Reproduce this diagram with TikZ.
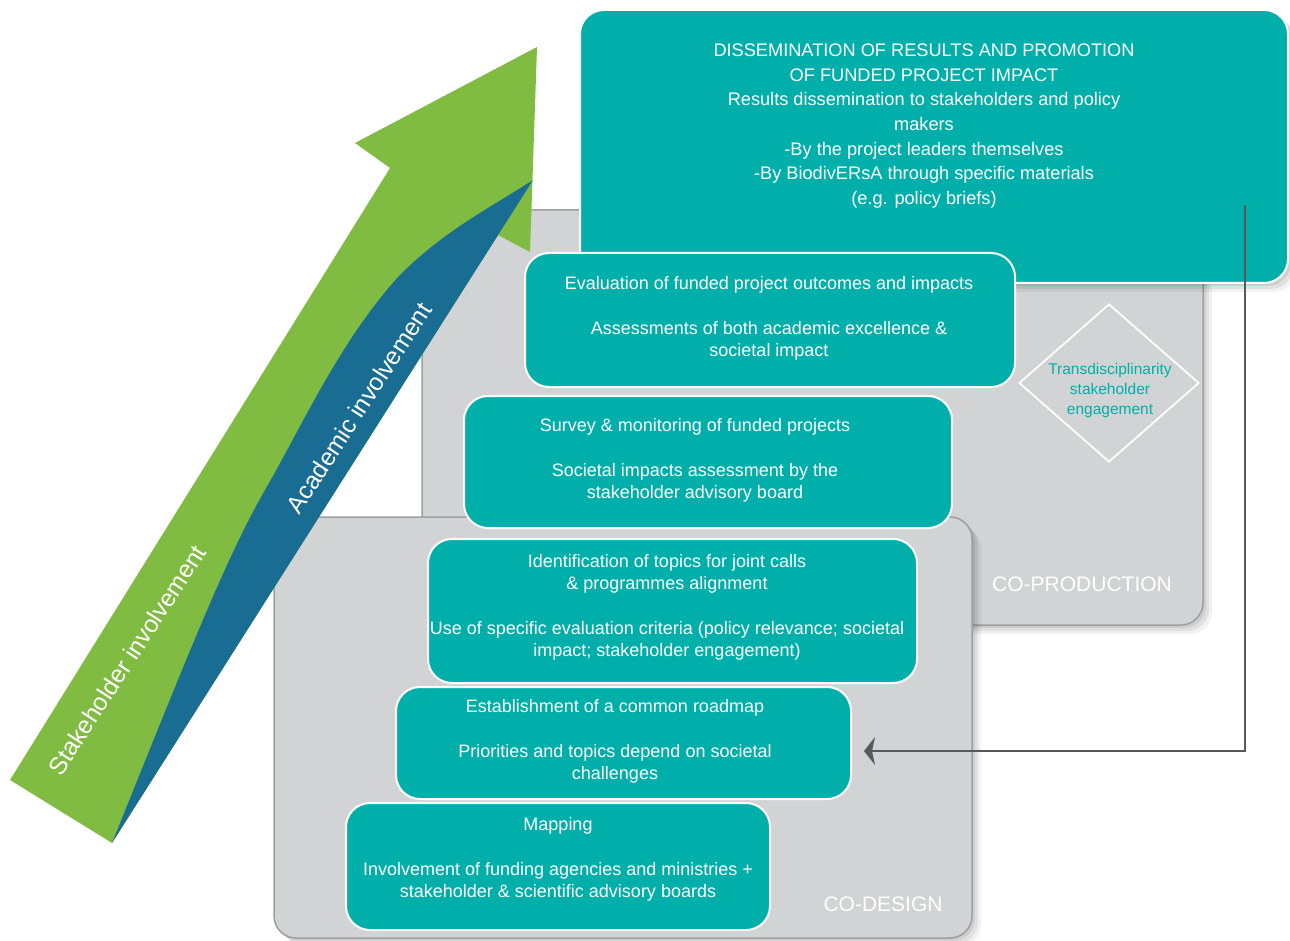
\documentclass[tikz,border=0pt]{standalone}
\usepackage{fontspec}
\setmainfont{Liberation Sans}
\usetikzlibrary{shapes.geometric,arrows.meta,shadows}
\definecolor{tealA}{HTML}{00AFAA}
\definecolor{greenA}{HTML}{7FBC41}
\definecolor{blueA}{HTML}{1A6D92}
\definecolor{panelgray}{HTML}{D1D3D4}
\definecolor{panelborder}{HTML}{9D9FA2}
\definecolor{connA}{HTML}{58595B}
\begin{document}
\begin{tikzpicture}[x=1pt,y=-1pt,
  softshadow/.style={
    drop shadow={shadow xshift=3pt,shadow yshift=-3pt,opacity=0.08,fill=black},
    drop shadow={shadow xshift=6pt,shadow yshift=-6pt,opacity=0.07,fill=black},
    drop shadow={shadow xshift=9pt,shadow yshift=-9pt,opacity=0.05,fill=black}},
  panel/.style={fill=panelgray, draw=panelborder, line width=1.5pt, rounded corners=22pt, inner sep=0pt, softshadow},
  tbox/.style={draw=white, line width=2pt, fill=tealA, rounded corners=24pt, inner sep=0pt},
  btext/.style={text=white, align=center, font=\fontsize{18}{22.3}\selectfont, inner sep=0pt},
  ttext/.style={text=white, align=center, font=\fontsize{18.2}{24.7}\selectfont, inner sep=0pt},
  arrtext/.style={text=white, font=\fontsize{24.5}{28}\selectfont, rotate=57, inner sep=0pt},
  phase/.style={text=white, font=\fontsize{21}{25}\selectfont, inner sep=0pt},
  conn/.style={draw=connA, line width=1.8pt, -{Stealth[length=11pt,width=28pt,inset=3pt]}}
]
\useasboundingbox (0,0) rectangle (1290,941);
\fill[white] (0,0) rectangle (1290,941);

% panels
\node[panel, minimum width=781pt, minimum height=415pt] (coprod) at (812.5,417.5) {};
\node[panel, minimum width=698pt, minimum height=421pt] (codesign) at (623,727.5) {};
\node[phase] (coprodlbl) at (1082,584) {CO-PRODUCTION};
\node[phase] (codesignlbl) at (883,904) {CO-DESIGN};

% arrows
\fill[greenA] (10,780) -- (390,168) -- (355,143) -- (537,47) -- (530,252) -- (498,235) -- (112,843) -- cycle;
\fill[blueA] (112,843) .. controls (190,650) and (225,560) .. (265,490)
   .. controls (300,430) and (340,340) .. (400,275)
   .. controls (445,230) and (490,208) .. (533,180) -- cycle;
\node[arrtext] (stake) at (127,660) {Stakeholder involvement};
\node[arrtext] (acad) at (359,408) {Academic involvement};

% top box
\node[tbox, minimum width=708pt, minimum height=273pt, softshadow] (top) at (934,146.5) {};
\node[ttext] (toptext) at (924,126) {DISSEMINATION OF RESULTS AND PROMOTION\\OF FUNDED PROJECT IMPACT\\Results dissemination to stakeholders and policy\\makers\\-By the project leaders themselves\\-By BiodivERsA through specific materials\\(e.g. policy briefs)};

% connector
\coordinate (cstart) at (1245,205);
\coordinate (cend) at (864,751);
\draw[conn] (cstart) |- (cend);

% step boxes
\node[tbox, minimum width=490pt, minimum height=134pt] (eval) at (770,320) {};
\node[btext] (evaltext) at (769,318.5) {Evaluation of funded project outcomes and impacts\\[22.3pt]Assessments of both academic excellence \&\\societal impact};

\node[tbox, minimum width=488pt, minimum height=132pt] (survey) at (708,462) {};
\node[btext] (surveytext) at (695,460.5) {Survey \& monitoring of funded projects\\[22.3pt]Societal impacts assessment by the\\stakeholder advisory board};

\node[tbox, minimum width=489pt, minimum height=144pt] (ident) at (672.5,611) {};
\node[btext] (identtext) at (667,607.5) {Identification of topics for joint calls\\\& programmes alignment\\[22.3pt]Use of specific evaluation criteria (policy relevance; societal\\impact; stakeholder engagement)};

\node[tbox, minimum width=455pt, minimum height=112pt] (estab) at (623.5,743) {};
\node[btext] (estabtext) at (615,741.5) {Establishment of a common roadmap\\[22.3pt]Priorities and topics depend on societal\\challenges};

\node[tbox, minimum width=424pt, minimum height=127pt] (mapping) at (558,866.5) {};
\node[btext] (mappingtext) at (558,859.5) {Mapping\\[22.3pt]Involvement of funding agencies and ministries +\\stakeholder \& scientific advisory boards};

% diamond
\node[diamond, draw=white, line width=1.8pt, minimum width=180pt, minimum height=158pt, inner sep=0pt] (dia) at (1109,383) {};
\node[text=tealA, align=center, font=\fontsize{15.5}{20}\selectfont, inner sep=0pt] (diatext) at (1110,390) {Transdisciplinarity\\stakeholder\\engagement};
\end{tikzpicture}
\end{document}
